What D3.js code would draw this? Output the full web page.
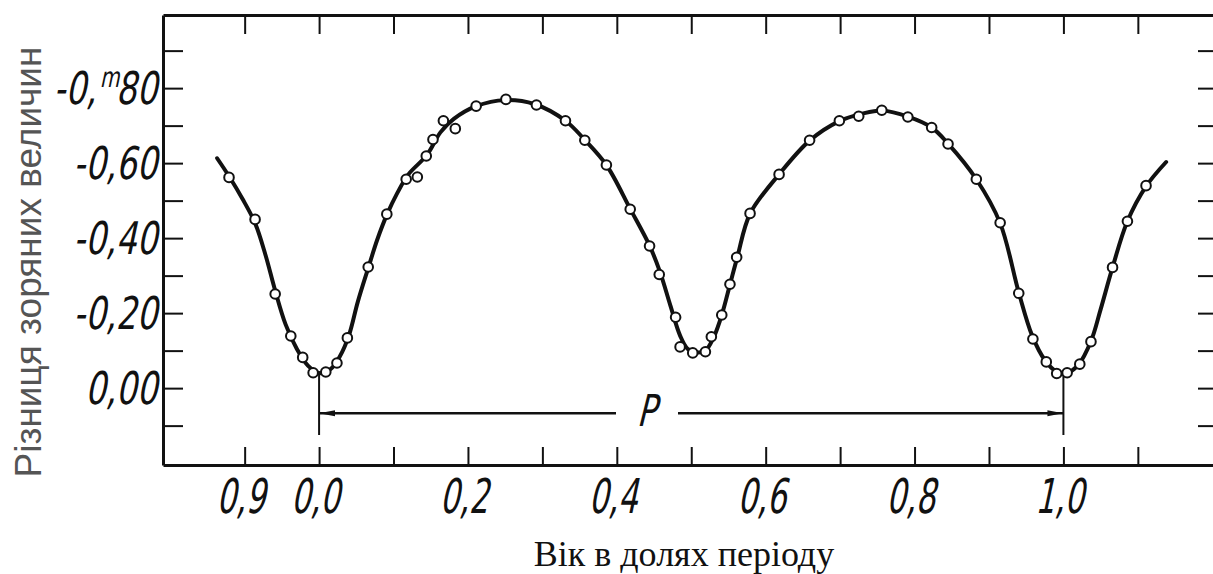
<!DOCTYPE html>
<html>
<head>
<meta charset="utf-8">
<script src="https://cdn.jsdelivr.net/npm/d3@7"></script>
<style>
body { margin: 0; background: #fff; }
svg { display: block; }
.num { font-family: "DejaVu Sans", sans-serif; fill: #111; }
</style>
</head>
<body>
<svg id="chart" width="1213" height="574"></svg>
<script>
// DATA

// Observed points (phase, magnitude difference)
const obsPhase = [-0.121, -0.086, -0.059, -0.038, -0.022, -0.008, 0.009, 0.024, 0.038, 0.066,
	0.091, 0.117, 0.132, 0.144, 0.153, 0.167, 0.183, 0.211, 0.251, 0.292,
	0.331, 0.357, 0.386, 0.418, 0.444, 0.457, 0.479, 0.485, 0.502, 0.519,
	0.527, 0.541, 0.552, 0.561, 0.579, 0.618, 0.659, 0.699, 0.725, 0.756,
	0.791, 0.823, 0.845, 0.883, 0.915, 0.940, 0.959, 0.977, 0.991, 1.005,
	1.022, 1.037, 1.066, 1.086, 1.111];
const obsMag = [-0.562, -0.450, -0.251, -0.139, -0.082, -0.041, -0.043, -0.067, -0.134, -0.323,
	-0.464, -0.557, -0.563, -0.619, -0.663, -0.713, -0.692, -0.752, -0.770, -0.755,
	-0.713, -0.661, -0.595, -0.477, -0.379, -0.303, -0.189, -0.110, -0.094, -0.097,
	-0.137, -0.195, -0.277, -0.349, -0.466, -0.570, -0.661, -0.713, -0.725, -0.741,
	-0.723, -0.695, -0.651, -0.557, -0.441, -0.253, -0.131, -0.070, -0.039, -0.041,
	-0.064, -0.124, -0.322, -0.445, -0.540];

// The drawn light curve
const curvePhase = [-0.137, -0.121, -0.103, -0.086, -0.072, -0.059, -0.045, -0.030, -0.015, 0.0,
	0.015, 0.028, 0.040, 0.052, 0.066, 0.078, 0.091, 0.105, 0.120, 0.145,
	0.163, 0.181, 0.211, 0.250, 0.290, 0.331, 0.357, 0.386, 0.418, 0.444,
	0.458, 0.472, 0.485, 0.495, 0.507, 0.519, 0.530, 0.541, 0.552, 0.562,
	0.579, 0.618, 0.659, 0.699, 0.730, 0.757, 0.791, 0.823, 0.845, 0.883,
	0.915, 0.940, 0.958, 0.975, 0.990, 1.004, 1.020, 1.037, 1.050, 1.066,
	1.086, 1.111, 1.138];
const curveMag = [-0.613, -0.565, -0.505, -0.440, -0.355, -0.260, -0.170, -0.105, -0.060, -0.040,
	-0.050, -0.085, -0.140, -0.230, -0.320, -0.395, -0.462, -0.520, -0.570, -0.622,
	-0.682, -0.718, -0.752, -0.768, -0.757, -0.713, -0.662, -0.595, -0.478, -0.380,
	-0.310, -0.220, -0.140, -0.105, -0.095, -0.100, -0.135, -0.195, -0.276, -0.350,
	-0.465, -0.570, -0.660, -0.712, -0.732, -0.740, -0.724, -0.695, -0.652, -0.557,
	-0.440, -0.255, -0.140, -0.075, -0.045, -0.040, -0.062, -0.125, -0.210, -0.322,
	-0.445, -0.538, -0.603];

// Axis ticks and labels
const xTickValues = [-0.1, 0, 0.1, 0.2, 0.3, 0.4, 0.5, 0.6, 0.7, 0.8, 0.9, 1.0, 1.1];
const xLabelValues = [-0.1, 0, 0.2, 0.4, 0.6, 0.8, 1.0];
const xLabels = ["0,9", "0,0", "0,2", "0,4", "0,6", "0,8", "1,0"];
const yTickValues = [-0.9, -0.8, -0.7, -0.6, -0.5, -0.4, -0.3, -0.2, -0.1, 0, 0.1];
const yLabelValues = [-0.8, -0.6, -0.4, -0.2, 0];
const yLabels = ["-0,80", "-0,60", "-0,40", "-0,20", "0,00"];

// Period marker: from phase 0 to phase 1, arrow level and line ends
const periodPhases = [0, 1];
const periodArrowMag = 0.067;
const periodLineMag = [-0.045, 0.125];

// LAYOUT
const plotLeft = 163, plotRight = 1216, plotTop = 15, plotBottom = 465;

const svg = d3.select("#chart");

const x = d3.scaleLinear().domain([-0.2097, 1.205]).range([plotLeft, plotRight]);
const y = d3.scaleLinear().domain([0.205, -0.995]).range([plotBottom, plotTop]);

// Axes (frame + inward ticks)
function styleAxis(g) {
	g.select(".domain").attr("stroke", "#111").attr("stroke-width", 3);
	g.selectAll(".tick line").attr("stroke", "#111").attr("stroke-width", 2);
}

svg.append("g")
	.attr("transform", `translate(0,${plotBottom})`)
	.call(d3.axisBottom(x).tickValues(xTickValues).tickSizeInner(-18).tickSizeOuter(0).tickFormat(""))
	.call(styleAxis);

svg.append("g")
	.attr("transform", `translate(0,${plotTop})`)
	.call(d3.axisTop(x).tickValues(xTickValues).tickSizeInner(-19).tickSizeOuter(0).tickFormat(""))
	.call(styleAxis);

svg.append("g")
	.attr("transform", `translate(${plotLeft},0)`)
	.call(d3.axisLeft(y).tickValues(yTickValues).tickSizeInner(-20).tickSizeOuter(0).tickFormat(""))
	.call(styleAxis);

svg.append("g")
	.attr("transform", `translate(${plotRight},0)`)
	.call(d3.axisRight(y).tickValues(yTickValues).tickSizeInner(-18).tickSizeOuter(0).tickFormat(""))
	.call(styleAxis);

// Tick labels, narrow italic like the drawing stencil
svg.append("g").selectAll("text")
	.data(xLabelValues)
	.enter()
	.append("text")
	.attr("class", "num")
	.attr("text-anchor", "middle")
	.attr("transform", d => `translate(${x(d) - 4},513) skewX(-12) scale(0.64,1)`)
	.style("font-size", "48px")
	.text((d, i) => xLabels[i]);

const yText = svg.append("g").selectAll("text")
	.data(yLabelValues)
	.enter()
	.append("text")
	.attr("class", "num")
	.attr("text-anchor", "end")
	.attr("transform", d => `translate(${plotLeft - 6},${y(d) + 16}) skewX(-12) scale(0.72,1)`)
	.style("font-size", "45px");

yText.each(function(d, i) {
	const t = d3.select(this);
	const label = yLabels[i];
	if (i === 0) {
		// magnitude mark on the top label: -0,m80
		const cut = label.indexOf(",") + 1;
		t.append("tspan").text(label.slice(0, cut));
		t.append("tspan").attr("dy", -17).style("font-size", "28px").text("m");
		t.append("tspan").attr("dy", 17).text(label.slice(cut));
	} else {
		t.text(label);
	}
});

// Light curve
const line = d3.line()
	.x((d, i) => x(curvePhase[i]))
	.y((d, i) => y(curveMag[i]))
	.curve(d3.curveCatmullRom.alpha(0.5));

svg.append("path")
	.datum(curvePhase)
	.attr("d", line)
	.attr("fill", "none")
	.attr("stroke", "#111")
	.attr("stroke-width", 4)
	.attr("stroke-linejoin", "round")
	.attr("stroke-linecap", "round");

// Period marker
const defs = svg.append("defs");
defs.append("marker")
	.attr("id", "arrow")
	.attr("viewBox", "0 -4 16 8")
	.attr("refX", 16)
	.attr("refY", 0)
	.attr("markerWidth", 16)
	.attr("markerHeight", 8)
	.attr("markerUnits", "userSpaceOnUse")
	.attr("orient", "auto-start-reverse")
	.append("path")
	.attr("d", "M0,-3L16,0L0,3Z")
	.attr("fill", "#111");

svg.selectAll(".period-line")
	.data(periodPhases)
	.enter()
	.append("line")
	.attr("x1", d => x(d))
	.attr("x2", d => x(d))
	.attr("y1", y(periodLineMag[0]))
	.attr("y2", y(periodLineMag[1]))
	.attr("stroke", "#111")
	.attr("stroke-width", 2);

const pCenter = 646;
const arrowY = y(periodArrowMag);

svg.append("line")
	.attr("x1", pCenter - 30).attr("x2", x(periodPhases[0]))
	.attr("y1", arrowY).attr("y2", arrowY)
	.attr("stroke", "#111").attr("stroke-width", 2.5)
	.attr("marker-end", "url(#arrow)");

svg.append("line")
	.attr("x1", pCenter + 32).attr("x2", x(periodPhases[1]))
	.attr("y1", arrowY).attr("y2", arrowY)
	.attr("stroke", "#111").attr("stroke-width", 2.5)
	.attr("marker-end", "url(#arrow)");

svg.append("text")
	.attr("class", "num")
	.attr("text-anchor", "middle")
	.attr("transform", `translate(${pCenter},${arrowY + 13}) skewX(-14) scale(0.72,1)`)
	.style("font-size", "44px")
	.text("P");

// Observations
svg.append("g").selectAll("circle")
	.data(obsPhase)
	.enter()
	.append("circle")
	.attr("cx", d => x(d))
	.attr("cy", (d, i) => y(obsMag[i]))
	.attr("r", 4.8)
	.attr("fill", "#fff")
	.attr("stroke", "#111")
	.attr("stroke-width", 2);

// Axis titles
svg.append("text")
	.attr("transform", "translate(28,262) rotate(-90)")
	.attr("text-anchor", "middle")
	.attr("dominant-baseline", "central")
	.style("font-family", "'Liberation Sans', Arial, sans-serif")
	.style("font-size", "37px")
	.style("fill", "#555")
	.text("Різниця зоряних величин");

svg.append("text")
	.attr("x", 684)
	.attr("y", 566)
	.attr("text-anchor", "middle")
	.style("font-family", "'Liberation Serif', 'Times New Roman', serif")
	.style("font-size", "36px")
	.style("fill", "#111")
	.text("Вік в долях періоду");
</script>
</body>
</html>
